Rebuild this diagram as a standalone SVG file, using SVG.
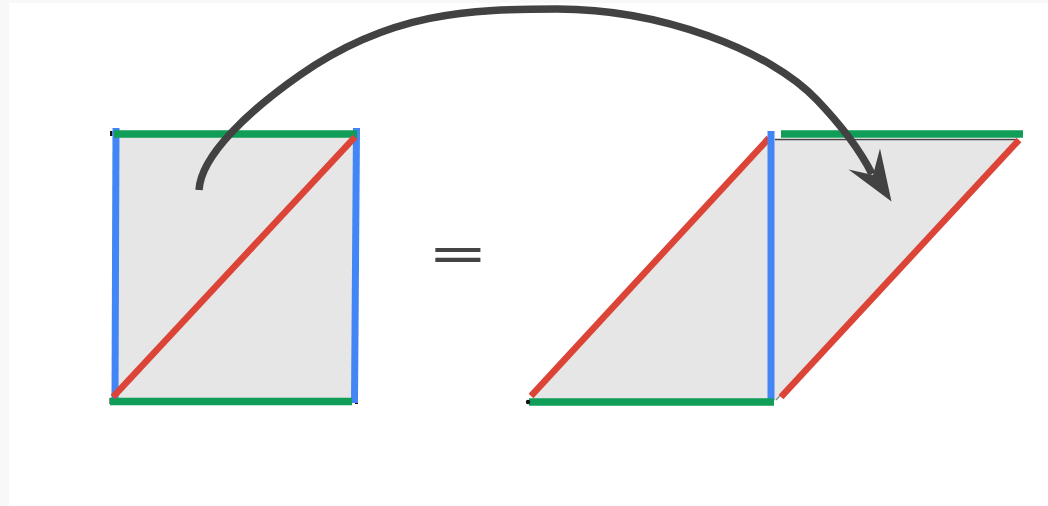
<svg xmlns="http://www.w3.org/2000/svg" width="1048" height="506" viewBox="0 0 1048 506">
  <style>
    .fill { fill: #e6e6e6; stroke: none; }
    .blue { stroke: #4285f4; stroke-width: 7; fill: none; }
    .green { stroke: #0f9d58; stroke-width: 7.5; fill: none; }
    .red { stroke: #db4437; stroke-width: 6.5; fill: none; }
    .arrow { stroke: #424242; stroke-width: 7.5; fill: none; stroke-linecap: butt; }
    .head { fill: #424242; }
    .dot { fill: #111; }
    .eq { font-family: "DejaVu Sans", sans-serif; font-size: 50px; fill: #444444; }
  </style>
  <rect x="0" y="0" width="1048" height="506" fill="#ffffff"/>
  <rect x="0" y="0" width="1048" height="3" fill="#f8f8f8"/>
  <rect x="0" y="0" width="9" height="506" fill="#f8f8f8"/>

  <g id="square">
    <rect class="fill" x="115" y="134" width="241" height="268"/>
    <rect class="dot" x="110" y="131" width="2.5" height="5"/>
    <rect class="dot" x="109.5" y="398" width="2.5" height="6"/>
    <rect class="dot" x="355" y="401" width="3" height="3"/>
    <line class="blue" x1="116" y1="128" x2="115" y2="400"/>
    <line class="blue" x1="356.5" y1="128" x2="354.5" y2="403"/>
    <line class="green" x1="114" y1="134" x2="357" y2="134"/>
    <line class="green" x1="110" y1="401.5" x2="352" y2="401.5"/>
    <line class="red" x1="113" y1="397" x2="355" y2="137"/>
  </g>

  <g id="equals">
    <text class="eq" x="0" y="0" text-anchor="middle" transform="translate(458,271) scale(1.44,1)">=</text>
  </g>

  <g id="parallelogram">
    <polygon class="fill" points="530,401 775,401 1020,139 770,139"/>
    <line x1="775" y1="139.5" x2="1017" y2="139.5" stroke="#444" stroke-width="1.5"/>
    <line x1="776" y1="400" x2="1018" y2="140" stroke="#888" stroke-width="1.2"/>
    <line class="red" x1="531" y1="396" x2="769" y2="138"/>
    <line class="red" x1="781" y1="397" x2="1019" y2="140"/>
    <line class="blue" x1="771" y1="131" x2="771" y2="400"/>
    <line class="green" x1="781" y1="134" x2="1023" y2="134"/>
    <line class="green" x1="529" y1="402" x2="774" y2="402"/>
    <circle class="dot" cx="528" cy="402" r="2.2"/>
  </g>

  <g id="connectors">
    <path class="arrow" d="M199,190 C201,155 250,110 300,75 C390,12 470,9 557,9 C660,9 770,50 817,100 C838,122 860,150 872,174"/>
    <polygon class="head" points="891.5,201.5 848.5,169.5 873,175 880,148.5"/>
  </g>
</svg>
